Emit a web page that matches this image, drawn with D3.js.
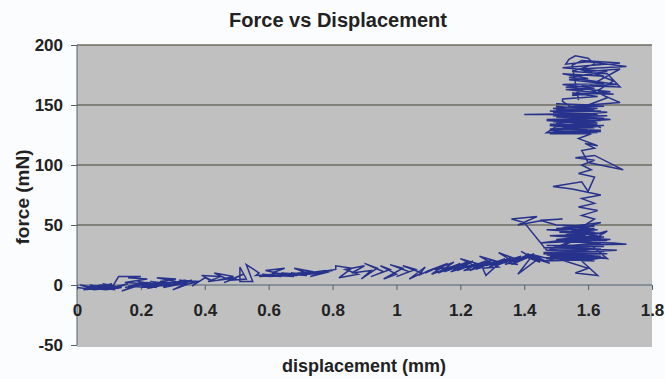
<!DOCTYPE html>
<html>
<head>
<meta charset="utf-8">
<script src="https://cdn.jsdelivr.net/npm/d3@7"></script>
<style>
  body { margin: 0; background: #fbfcfe; }
  svg { display: block; }
  text { font-family: "Liberation Sans", Arial, sans-serif; font-weight: bold; fill: #222; }
</style>
</head>
<body>
<div id="chart"></div>
<script>
// tick values
const xTicks = [0, 0.2, 0.4, 0.6, 0.8, 1, 1.2, 1.4, 1.6, 1.8];
const yTicks = [-50, 0, 50, 100, 150, 200];
const gridValues = [50, 100, 150, 200];

// [displacement (mm), force (mN)], in drawing order
const stageStart = [
  [0, -2], [0.06, -4], [0.01, 0], [0.07, -3], [0.02, -4], [0.08, 0], [0.03, -2], [0.09, -4],
  [0.04, 0], [0.1, -3], [0.05, -4], [0.11, 1], [0.06, -2], [0.12, -4], [0.07, 0], [0.13, -3],
  [0.08, 1], [0.14, -2], [0.09, -4], [0.15, 0], [0.1, -3], [0.16, 1], [0.11, -2], [0.13, 7],
  [0.2, 7], [0.16, 6], [0.22, 5], [0.15, 2], [0.21, 1], [0.14, -5], [0.18, -1], [0.23, 2],
  [0.15, -2], [0.22, 2], [0.16, -1], [0.23, -2], [0.17, 2], [0.24, -1], [0.18, 1], [0.25, -2],
  [0.19, 3], [0.26, 0], [0.2, -2], [0.27, 2], [0.21, 0], [0.28, 3], [0.22, -3], [0.29, 1],
  [0.23, 3], [0.3, 0], [0.24, -1], [0.31, 3], [0.25, 6], [0.31, 5], [0.26, 3], [0.33, 1],
  [0.27, -2], [0.33, 3], [0.28, 1], [0.34, 4], [0.29, -1], [0.35, 3], [0.3, 1], [0.36, 4],
  [0.3, -4], [0.35, 1], [0.37, 2], [0.32, 4], [0.38, 3], [0.36, -1], [0.4, 6], [0.42, 4]
];
const stageLow = [
  [0.39, 8], [0.45, 7], [0.41, 3], [0.47, 5], [0.43, 10], [0.49, 7], [0.44, 4], [0.5, 6],
  [0.46, 2], [0.52, 9], [0.48, 4], [0.53, 5], [0.51, 15], [0.51, 3], [0.55, 3], [0.53, 17], [0.57, 10]
];
const stageBand = [
  [0.56, 8], [0.62, 9], [0.57, 7], [0.63, 8], [0.58, 9], [0.64, 7], [0.59, 8], [0.65, 9],
  [0.6, 7], [0.66, 8], [0.59, 12], [0.65, 14], [0.61, 10], [0.67, 9], [0.62, 8], [0.68, 7],
  [0.63, 9], [0.69, 8], [0.64, 10], [0.7, 9], [0.65, 8], [0.71, 10], [0.66, 9], [0.72, 8],
  [0.67, 10], [0.73, 9], [0.68, 14], [0.74, 11], [0.69, 10], [0.75, 9], [0.7, 11], [0.76, 10],
  [0.71, 9], [0.77, 11], [0.72, 10], [0.78, 12], [0.73, 7], [0.79, 11], [0.75, 10], [0.8, 12],
  [0.76, 11], [0.81, 13]
];
const stageMid = [
  [0.81, 16], [0.86, 14], [0.82, 6], [0.88, 9], [0.84, 13], [0.9, 16], [0.86, 10], [0.92, 12],
  [0.89, 5], [0.94, 14], [0.9, 18], [0.96, 11], [0.92, 7], [0.98, 13], [0.95, 16], [1.0, 9],
  [0.96, 5], [1.02, 14], [0.98, 17], [1.04, 11], [1.0, 7], [1.06, 13], [1.02, 16], [1.08, 10],
  [1.04, 5], [1.09, 15], [1.07, 8], [1.1, 12]
];
const stageRise = [
  [1.09, 10], [1.15, 17], [1.1, 12], [1.16, 18], [1.11, 9], [1.17, 15], [1.12, 13], [1.18, 19],
  [1.13, 10], [1.19, 16], [1.14, 12], [1.2, 18], [1.15, 11], [1.21, 17], [1.16, 13], [1.22, 19],
  [1.17, 11], [1.23, 16], [1.18, 13], [1.24, 20], [1.19, 12], [1.25, 18], [1.2, 22], [1.26, 14],
  [1.21, 12], [1.27, 19], [1.22, 14], [1.28, 20], [1.23, 12], [1.29, 18], [1.24, 15], [1.3, 21],
  [1.25, 13], [1.31, 20], [1.26, 24], [1.32, 15], [1.27, 14], [1.28, 8], [1.33, 20], [1.28, 16],
  [1.34, 22], [1.29, 15], [1.35, 21], [1.3, 17], [1.36, 23], [1.31, 16], [1.37, 22], [1.32, 27],
  [1.38, 17], [1.33, 19], [1.39, 24], [1.34, 17], [1.4, 23], [1.35, 18], [1.41, 25], [1.36, 17],
  [1.42, 24], [1.37, 19], [1.43, 26], [1.38, 9], [1.44, 21], [1.39, 28], [1.45, 19], [1.4, 24],
  [1.46, 20], [1.41, 26], [1.47, 19], [1.42, 23], [1.48, 18], [1.43, 25], [1.49, 21]
];
const stageKnee = [
  [1.46, 20], [1.6, 21], [1.47, 22], [1.62, 20], [1.46, 23], [1.63, 22], [1.48, 24], [1.6, 14],
  [1.56, 10], [1.63, 8], [1.58, 20], [1.65, 23], [1.47, 25], [1.64, 26], [1.46, 27], [1.65, 28],
  [1.47, 29], [1.4, 52], [1.36, 55], [1.44, 57], [1.38, 50], [1.46, 54], [1.52, 55], [1.45, 54],
  [1.5, 50], [1.62, 49], [1.5, 47], [1.63, 46], [1.51, 44], [1.64, 43], [1.52, 41], [1.65, 40],
  [1.53, 38], [1.66, 37], [1.5, 36], [1.68, 35], [1.72, 34], [1.47, 33], [1.65, 32], [1.46, 31],
  [1.64, 30], [1.47, 29], [1.63, 28], [1.48, 27], [1.66, 26], [1.47, 25], [1.64, 24], [1.49, 26],
  [1.62, 30], [1.51, 32], [1.63, 35], [1.52, 37], [1.64, 39], [1.53, 42], [1.62, 44], [1.52, 48],
  [1.64, 52], [1.55, 45], [1.6, 40], [1.54, 36], [1.66, 45], [1.57, 30], [1.6, 25], [1.48, 30],
  [1.59, 40], [1.52, 33], [1.64, 34], [1.5, 38], [1.63, 41], [1.45, 35], [1.67, 38], [1.48, 41],
  [1.65, 43], [1.47, 46], [1.62, 47], [1.5, 31], [1.69, 29], [1.46, 26], [1.66, 22], [1.55, 46],
  [1.6, 48]
];
const stageSpine = [
  [1.59, 50], [1.62, 55], [1.58, 58], [1.63, 62], [1.57, 65], [1.62, 68], [1.58, 72], [1.64, 75],
  [1.55, 80], [1.49, 82], [1.58, 86], [1.6, 78], [1.62, 90], [1.57, 93], [1.61, 96], [1.58, 100],
  [1.62, 104], [1.56, 106], [1.62, 108], [1.71, 96], [1.6, 102], [1.58, 112], [1.62, 114], [1.59, 118],
  [1.63, 116], [1.57, 122], [1.61, 126]
];
const stageBlock = [
  [1.48, 126], [1.63, 127], [1.49, 128], [1.64, 129], [1.48, 130], [1.62, 131], [1.5, 132], [1.65, 133],
  [1.48, 134], [1.63, 135], [1.49, 136], [1.64, 137], [1.47, 138], [1.62, 139], [1.5, 140], [1.66, 141],
  [1.47, 142], [1.4, 142], [1.62, 143], [1.49, 144], [1.64, 145], [1.5, 146], [1.63, 147], [1.51, 148],
  [1.65, 149], [1.5, 151], [1.61, 150], [1.49, 147], [1.66, 144], [1.52, 141], [1.67, 138], [1.5, 135],
  [1.63, 132], [1.48, 129], [1.6, 126], [1.55, 128], [1.62, 136], [1.53, 143], [1.6, 149], [1.47, 127],
  [1.64, 128], [1.48, 133], [1.62, 134], [1.47, 137], [1.65, 139], [1.49, 141], [1.63, 142], [1.48, 145],
  [1.62, 146], [1.5, 149], [1.64, 131], [1.52, 153]
];
const stageTop = [
  [1.52, 155], [1.63, 157], [1.55, 160], [1.68, 159], [1.53, 163], [1.62, 164], [1.52, 167], [1.65, 168],
  [1.54, 171], [1.6, 172], [1.52, 176], [1.65, 174], [1.57, 180], [1.72, 182], [1.6, 186], [1.53, 184],
  [1.54, 188], [1.56, 191], [1.6, 189], [1.62, 184], [1.55, 178], [1.66, 176], [1.7, 165], [1.58, 166],
  [1.7, 152], [1.6, 150], [1.66, 156], [1.63, 162], [1.68, 170], [1.6, 178], [1.7, 180], [1.55, 158],
  [1.67, 161], [1.53, 165], [1.69, 167], [1.54, 173], [1.66, 178], [1.52, 181], [1.7, 185], [1.58, 187],
  [1.55, 183], [1.57, 154]
];

const trace = [].concat(stageStart, stageLow, stageBand, stageMid, stageRise,
  stageKnee, stageSpine, stageBlock, stageTop);

const width = 665, height = 379;
const plot = { left: 77, right: 652, top: 45, bottom: 347 };

const svg = d3.select('#chart').append('svg').attr('width', width).attr('height', height);

const x = d3.scaleLinear().domain([0, 1.8]).range([plot.left, plot.right]);
const y = d3.scaleLinear().domain([-50, 200]).range([345, plot.top]);

// plot area background
svg.append('rect')
  .attr('x', plot.left).attr('y', plot.top)
  .attr('width', plot.right - plot.left).attr('height', plot.bottom - plot.top)
  .attr('fill', '#c0c0c0');

// horizontal gridlines
svg.selectAll('line.grid')
  .data(gridValues)
  .enter()
  .append('line')
  .attr('class', 'grid')
  .attr('x1', plot.left).attr('x2', plot.right)
  .attr('y1', d => y(d)).attr('y2', d => y(d))
  .style('stroke', '#6c6c62')
  .style('stroke-width', 1.5);

// y axis (plain hyphen for negatives, like the original)
const yAxis = svg.append('g')
  .attr('transform', `translate(${plot.left},0)`)
  .call(d3.axisLeft(y).tickValues(yTicks).tickFormat(d => String(d)).tickSize(6).tickPadding(8));
yAxis.select('.domain').attr('stroke', '#50606e').attr('d', `M0,${y(200)}V${y(-50)}`);
yAxis.selectAll('.tick line').attr('stroke', '#50606e');
yAxis.selectAll('.tick text')
  .style('font-size', '17px').style('font-family', '"Liberation Sans", Arial, sans-serif')
  .style('font-weight', 'bold').attr('fill', '#222');

// x axis sits on force = 0
const xAxis = svg.append('g')
  .attr('transform', `translate(0,${y(0)})`)
  .call(d3.axisBottom(x).tickValues(xTicks).tickFormat(d => String(d)).tickSize(5).tickPadding(14));
xAxis.select('.domain').attr('stroke', '#50606e').attr('d', `M${plot.left},0H${plot.right}`);
xAxis.selectAll('.tick line').attr('stroke', '#50606e');
xAxis.selectAll('.tick text')
  .style('font-size', '17px').style('font-family', '"Liberation Sans", Arial, sans-serif')
  .style('font-weight', 'bold').attr('fill', '#222');

// data trace
const line = d3.line().x(d => x(d[0])).y(d => y(d[1]));
svg.append('path')
  .datum(trace)
  .attr('d', line)
  .style('fill', 'none')
  .style('stroke', '#27328c')
  .style('stroke-width', 1.5)
  .style('stroke-linejoin', 'miter');

// titles
svg.append('text')
  .attr('x', 338).attr('y', 27)
  .attr('text-anchor', 'middle')
  .style('font-size', '20px')
  .text('Force vs Displacement');

svg.append('text')
  .attr('x', 364).attr('y', 372)
  .attr('text-anchor', 'middle')
  .style('font-size', '18px')
  .text('displacement (mm)');

svg.append('text')
  .attr('transform', 'translate(29,197) rotate(-90)')
  .attr('text-anchor', 'middle')
  .style('font-size', '19px')
  .text('force (mN)');
</script>
</body>
</html>
